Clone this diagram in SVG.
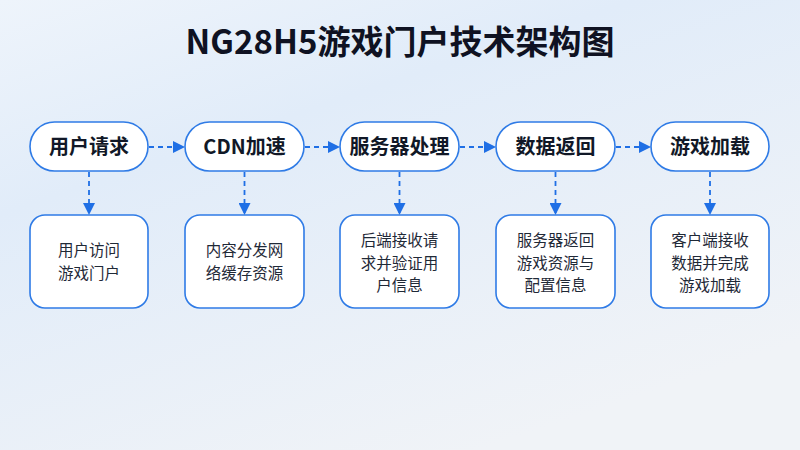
<svg xmlns="http://www.w3.org/2000/svg" width="800" height="450" viewBox="0 0 800 450">
<defs>
<linearGradient id="bg" x1="0" y1="0" x2="0.6" y2="1">
<stop offset="0" stop-color="#eef4fb"/>
<stop offset="0.35" stop-color="#e1ecf9"/>
<stop offset="1" stop-color="#f0f3f7"/>
</linearGradient>
<marker id="ah" viewBox="0 0 12 12" refX="12" refY="6" markerWidth="12" markerHeight="12" markerUnits="userSpaceOnUse" orient="auto">
<path d="M0,0 L12,6 L0,12 z" fill="#1f6fe5"/>
</marker>
<style>
.pill{fill:#ffffff;stroke:#2f7be6;stroke-width:1.6}
.box{fill:#ffffff;stroke:#2f7be6;stroke-width:1.6}
.pt{font-family:"Noto Sans CJK SC","Noto Sans",sans-serif;font-size:20px;font-weight:bold;fill:#111827;text-anchor:middle}
.bt{font-family:"Noto Sans CJK SC","Noto Sans",sans-serif;font-size:15.5px;fill:#1f2937;text-anchor:middle}
.con{stroke:#1f6fe5;stroke-width:1.8;stroke-dasharray:5 4;fill:none;marker-end:url(#ah)}
</style>
</defs>
<rect width="800" height="450" fill="url(#bg)"/>
<text x="400" y="54" font-family="'Noto Sans CJK SC','Noto Sans',sans-serif" font-size="33" font-weight="bold" fill="#0f1222" text-anchor="middle">NG28H5游戏门户技术架构图</text>
<g id="connectors">
<line class="con" x1="149" y1="147" x2="185" y2="147"/>
<line class="con" x1="305" y1="147" x2="340" y2="147"/>
<line class="con" x1="460" y1="147" x2="496" y2="147"/>
<line class="con" x1="616" y1="147" x2="651" y2="147"/>
<line class="con" x1="89" y1="172" x2="89" y2="215"/>
<line class="con" x1="244.5" y1="172" x2="244.5" y2="215"/>
<line class="con" x1="399.5" y1="172" x2="399.5" y2="215"/>
<line class="con" x1="555.5" y1="172" x2="555.5" y2="215"/>
<line class="con" x1="710" y1="172" x2="710" y2="215"/>
</g>
<g id="n1"><rect class="pill" x="30" y="122" width="118" height="49" rx="24.5"/><text class="pt" x="89" y="154">用户请求</text></g>
<g id="n2"><rect class="pill" x="185" y="122" width="119" height="49" rx="24.5"/><text class="pt" x="244.5" y="154">CDN加速</text></g>
<g id="n3"><rect class="pill" x="340" y="122" width="119" height="49" rx="24.5"/><text class="pt" x="399.5" y="154">服务器处理</text></g>
<g id="n4"><rect class="pill" x="496" y="122" width="119" height="49" rx="24.5"/><text class="pt" x="555.5" y="154">数据返回</text></g>
<g id="n5"><rect class="pill" x="651" y="122" width="118" height="49" rx="24.5"/><text class="pt" x="710" y="154">游戏加载</text></g>
<g id="d1"><rect class="box" x="30" y="215" width="118" height="93" rx="15"/><text class="bt"><tspan x="89" y="256">用户访问</tspan><tspan x="89" y="278.5">游戏门户</tspan></text></g>
<g id="d2"><rect class="box" x="185" y="215" width="119" height="93" rx="15"/><text class="bt"><tspan x="244.5" y="256">内容分发网</tspan><tspan x="244.5" y="278.5">络缓存资源</tspan></text></g>
<g id="d3"><rect class="box" x="340" y="215" width="119" height="93" rx="15"/><text class="bt"><tspan x="399.5" y="246">后端接收请</tspan><tspan x="399.5" y="268.5">求并验证用</tspan><tspan x="399.5" y="291">户信息</tspan></text></g>
<g id="d4"><rect class="box" x="496" y="215" width="119" height="93" rx="15"/><text class="bt"><tspan x="555.5" y="246">服务器返回</tspan><tspan x="555.5" y="268.5">游戏资源与</tspan><tspan x="555.5" y="291">配置信息</tspan></text></g>
<g id="d5"><rect class="box" x="651" y="215" width="118" height="93" rx="15"/><text class="bt"><tspan x="710" y="246">客户端接收</tspan><tspan x="710" y="268.5">数据并完成</tspan><tspan x="710" y="291">游戏加载</tspan></text></g>
</svg>
